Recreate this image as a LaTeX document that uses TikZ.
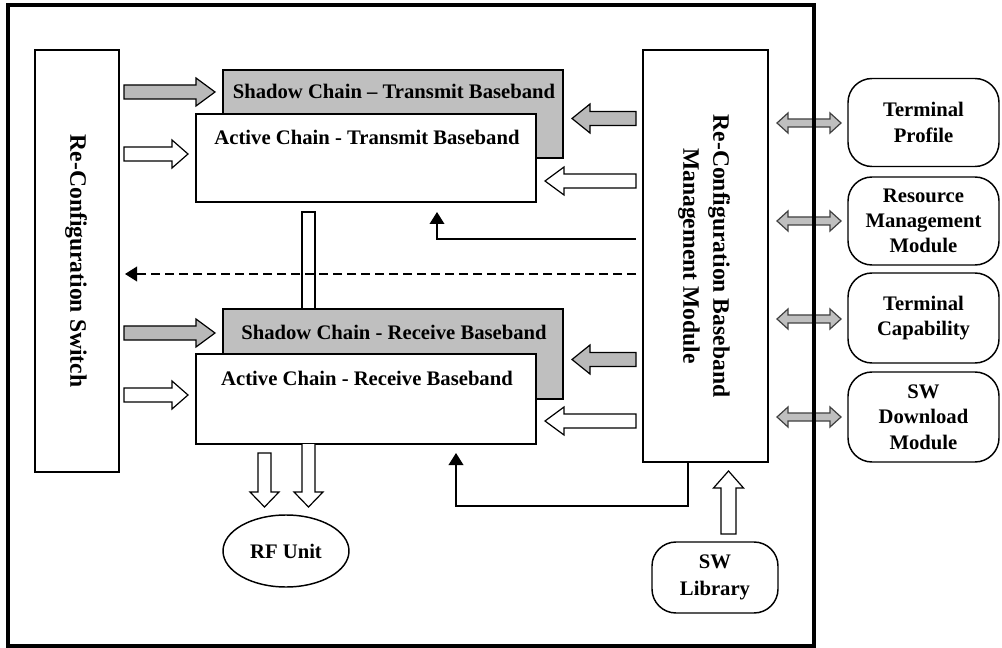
\documentclass[tikz,border=0pt]{standalone}
\usepackage{fontspec}
\setmainfont{Liberation Serif}
\usetikzlibrary{arrows.meta,shapes.geometric}
% horizontal block arrow: style, x tail, x tip, y, shaft half, head half, x head base
\newcommand{\HBArrow}[7]{\draw[#1] (#2,#4-#5) -- (#7,#4-#5) -- (#7,#4-#6) -- (#3,#4) -- (#7,#4+#6) -- (#7,#4+#5) -- (#2,#4+#5) -- cycle;}
% vertical block arrow: style, y tail, y tip, x, shaft half, head half, y head base
\newcommand{\VBArrow}[7]{\draw[#1] (#4-#5,#2) -- (#4-#5,#7) -- (#4-#6,#7) -- (#4,#3) -- (#4+#6,#7) -- (#4+#5,#7) -- (#4+#5,#2) -- cycle;}
% double block arrow: style, x left tip, x right tip, y, shaft half, head half, head length
\newcommand{\DBArrow}[7]{\draw[#1] (#2,#4) -- (#2+#7,#4-#6) -- (#2+#7,#4-#5) -- (#3-#7,#4-#5) -- (#3-#7,#4-#6) -- (#3,#4) -- (#3-#7,#4+#6) -- (#3-#7,#4+#5) -- (#2+#7,#4+#5) -- (#2+#7,#4+#6) -- cycle;}
\begin{document}
\begin{tikzpicture}[x=0.75pt,y=-0.75pt,
  box/.style={draw, line width=1.1pt, inner sep=0pt, outer sep=0pt, fill=white},
  shadowbox/.style={box, fill=gray!50},
  rbox/.style={box, rounded corners=18pt},
  txt/.style={font=\bfseries\fontsize{15.5}{19}\selectfont, inner sep=0pt, align=center},
  vtxt/.style={font=\bfseries\fontsize{17.7}{22.5}\selectfont, inner sep=0pt, align=center, rotate=-90},
  garrow/.style={draw, line width=0.9pt, fill=gray!55},
  warrow/.style={draw, line width=0.9pt, fill=white},
  darrow/.style={draw=black!75, line width=0.9pt, fill=gray!50},
  conn/.style={draw, line width=1.1pt, -{Triangle[length=9pt,width=11pt]}},
  dconn/.style={conn, dash pattern=on 6.75pt off 3.75pt}
]
\useasboundingbox (0,0) rectangle (1002,648);
\fill[white] (0,0) rectangle (1002,648);

% side modules
\node[box, minimum width=63pt, minimum height=316.5pt] (sw) at (77,261) {};
\node[vtxt] (swt) at (76,261) {Re-Configuration Switch};
\node[box, minimum width=93.75pt, minimum height=309pt] (rbmm) at (705.5,256) {};
\node[vtxt] (rbmmt) at (704,256) {Re-Configuration Baseband\\Management Module};

% vertical bar between chains
\draw[line width=1.1pt, fill=white] (302,309) -- (302,212) -- (315,212) -- (315,309);

% chains
\node[shadowbox, minimum width=255pt, minimum height=66pt] (sT) at (393,114) {};
\node[txt] (sTt) at (394,91) {Shadow Chain -- Transmit Baseband};
\node[box, minimum width=255pt, minimum height=66pt] (aT) at (366,158) {};
\node[txt] (aTt) at (367,137) {Active Chain - Transmit Baseband};
\node[shadowbox, minimum width=255pt, minimum height=67.5pt] (sR) at (393,354) {};
\node[txt] (sRt) at (394,332) {Shadow Chain - Receive Baseband};
\node[box, minimum width=255pt, minimum height=67.5pt] (aR) at (366,399) {};
\node[txt] (aRt) at (367,378) {Active Chain - Receive Baseband};

% RF unit and SW library
\node[box, ellipse, minimum width=94.5pt, minimum height=54pt, txt, draw, line width=1.1pt] (rf) at (286,551) {RF Unit};
\node[rbox, txt, font=\bfseries\fontsize{15.5}{20.25}\selectfont, minimum width=94.5pt, minimum height=53.25pt] (lib) at (715,577.5) {SW\\Library};

% block arrows from switch
\HBArrow{garrow}{124}{215}{92}{7}{14}{196}
\HBArrow{warrow}{124}{188}{154}{7}{14}{172}
\HBArrow{garrow}{124}{215}{333}{7}{14}{196}
\HBArrow{warrow}{124}{188}{395}{7}{14}{172}
% block arrows from management module
\HBArrow{garrow}{636}{572}{118.5}{7}{14.5}{590}
\HBArrow{warrow}{636}{545}{181}{7}{14}{564}
\HBArrow{garrow}{636}{572}{359.5}{7}{14.5}{590}
\HBArrow{warrow}{636}{545}{421}{7}{14}{564}
% down arrows to RF unit
\VBArrow{warrow}{453}{507}{264.5}{6.5}{14.5}{492}
\draw[warrow] (302,444) -- (302,492) -- (294,492) -- (308.5,507) -- (323,492) -- (315,492) -- (315,444);
% up arrow from SW library
\VBArrow{warrow}{534}{471}{728.5}{7.5}{15}{488}

% control connectors
\coordinate (c1) at (437,212);
\draw[conn] (636,239) -| (c1);
\coordinate (c2) at (125,274);
\draw[dconn] (636,274) -- (c2);
\coordinate (c3) at (456,453);
\draw[conn] (rbmm.south -| 688,0) -- (688,506) -| (c3);

% external modules
\node[rbox, txt, minimum width=113.25pt, minimum height=66pt] (tp) at (923.5,122.5) {Terminal\\Profile};
\node[rbox, txt, minimum width=113.25pt, minimum height=66pt] (rmm) at (923.5,221) {Resource\\Management\\Module};
\node[rbox, txt, minimum width=113.25pt, minimum height=67.5pt] (tc) at (923.5,318) {Terminal\\Capability};
\node[rbox, txt, minimum width=113.25pt, minimum height=67.5pt] (sdm) at (923.5,417) {SW\\Download\\Module};
\DBArrow{darrow}{777}{841}{123}{4}{10}{11}
\DBArrow{darrow}{777}{841}{221}{4}{10}{11}
\DBArrow{darrow}{777}{841}{319}{4}{10}{11}
\DBArrow{darrow}{777}{841}{417}{4}{10}{11}

% outer frame
\draw[line width=2.4pt] (8,5) rectangle (814,646);
\end{tikzpicture}
\end{document}
